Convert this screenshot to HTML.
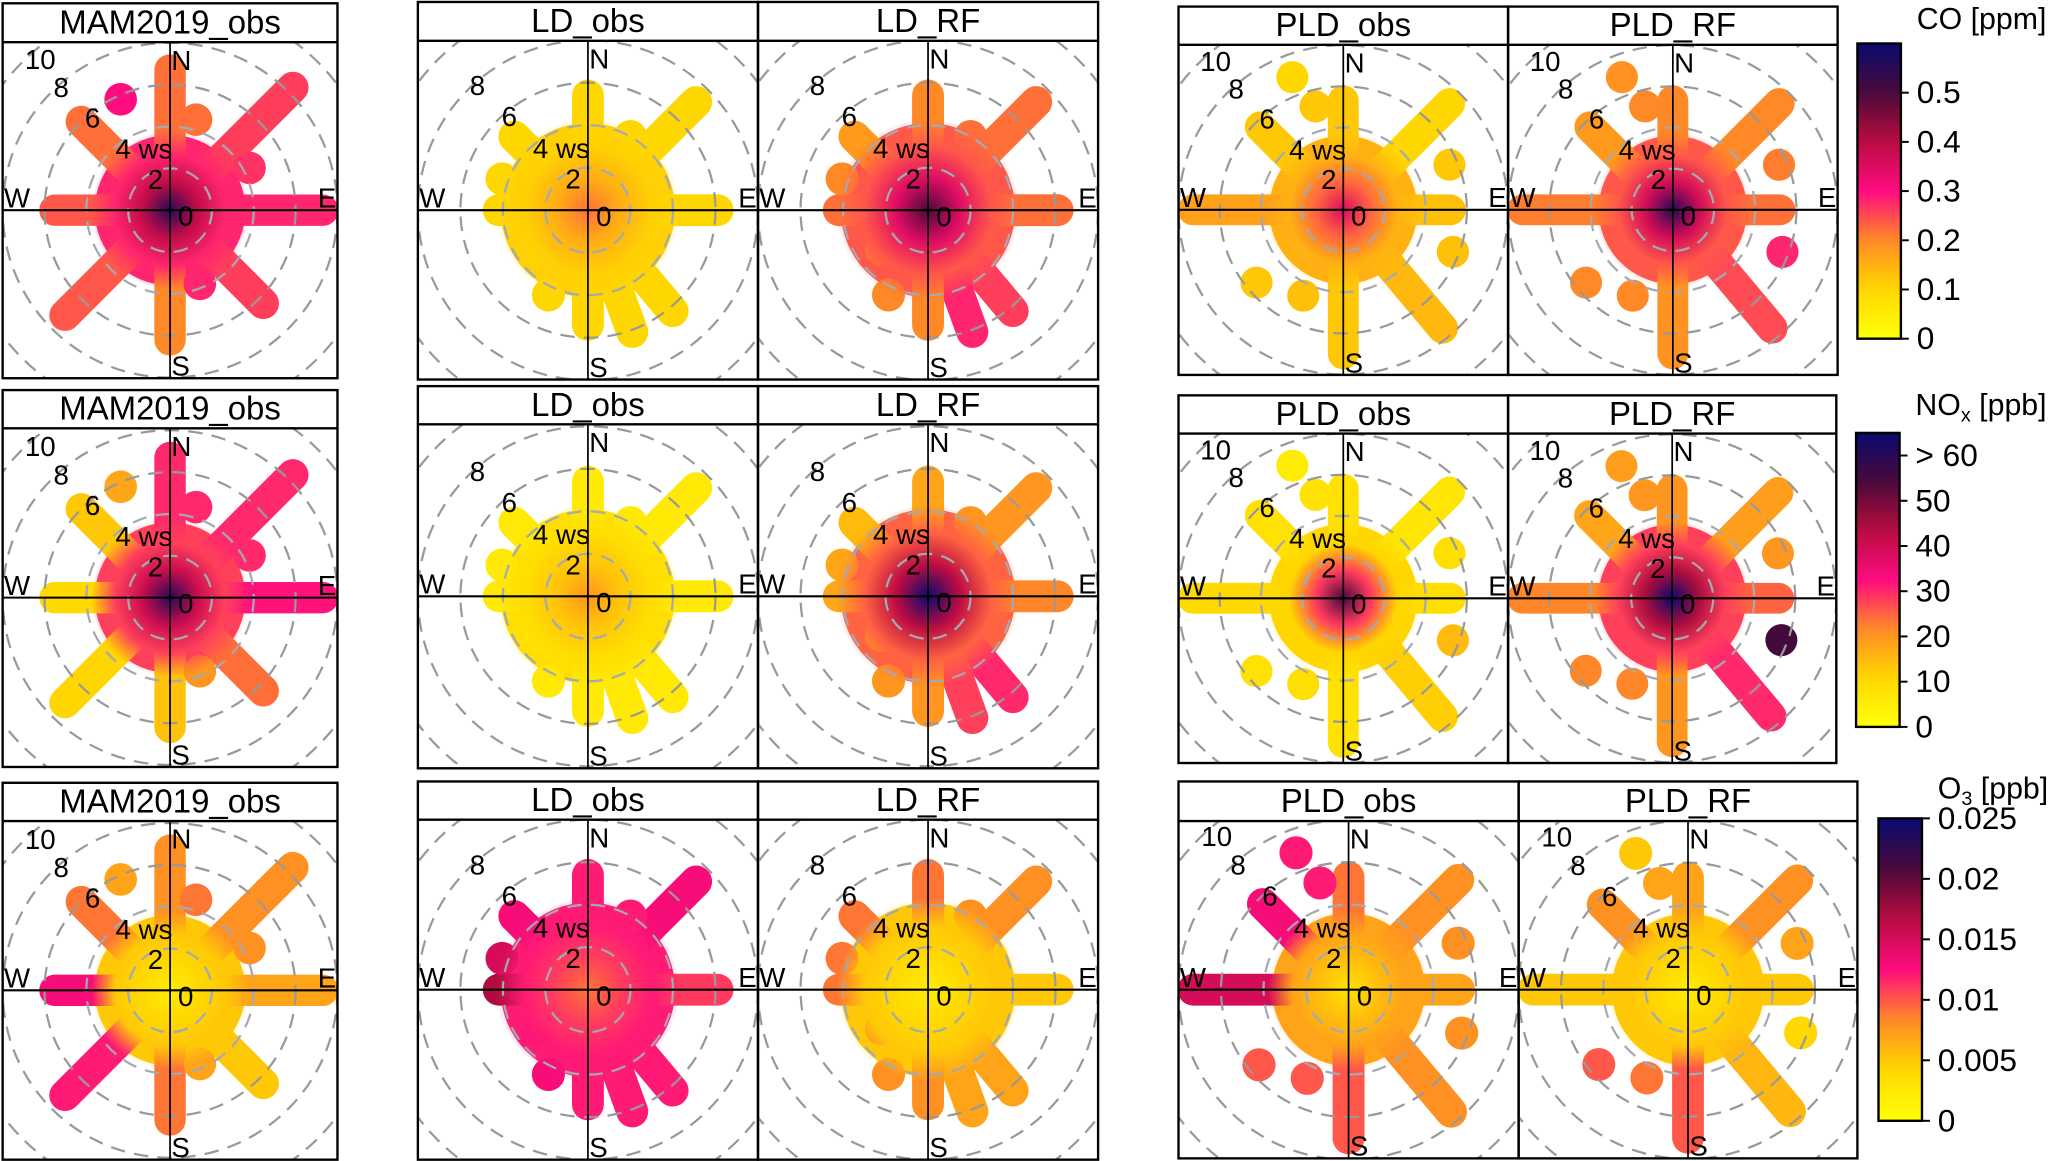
<!DOCTYPE html>
<html><head><meta charset="utf-8">
<style>
html,body{margin:0;padding:0;background:#fff;}
svg{display:block;}
text{font-family:"Liberation Sans Narrow","Liberation Sans",Arial,sans-serif;}
</style></head>
<body>
<svg id="fig" xmlns="http://www.w3.org/2000/svg" width="2067" height="1161" viewBox="0 0 1568 881" preserveAspectRatio="none">
<defs id="defs"></defs>
</svg>
<script>
// ---- wind-shape data (direction deg, wind speed) ----
const mamDirs=[0,45,90,135,180,225,270,315];
const mamLens=[7.4,9,8,7,6.9,7.8,6.2,6.7];
const mamBlobDirs=[336,16,62,158];
const mamBlobWs=[5.8,4.5,4.3,3.8];
const ldDirs=[0,45,90,140,160,180,230,270,315];
const ldLens=[6.1,7.9,6.8,6.9,6.8,6.1,3.6,4.9,5.6];
const ldBlobDirs=[290,205,30];
const ldBlobWs=[4.3,4.4,4.0];
const pldDirs=[0,45,90,140,180,270,315];
const pldLens=[6,8,5.9,8.2,7.7,8,6.4];
const pldBlobDirs=[339,345,67,111,230,205];
const pldBlobWs=[6.9,5.2,5.6,5.7,5.5,4.6];
// ---- colour values: [center, disk], spokes, blobs ----
const coMamCore=[0.55,0.28], coMam=[0.22,0.26,0.28,0.26,0.2,0.24,0.24,0.22], coMamBlob=[0.3,0.22,0.27,0.28];
const coLdObsCore=[0.22,0.11], coLdObs=[0.1,0.1,0.1,0.1,0.1,0.1,0.1,0.1,0.1], coLdObsBlob=[0.1,0.1,0.1];
const coLdRfCore=[0.5,0.24], coLdRf=[0.2,0.22,0.22,0.26,0.28,0.2,0.2,0.22,0.18], coLdRfBlob=[0.2,0.2,0.22];
const coPldObsCore=[0.35,0.15], coPldObs=[0.12,0.1,0.13,0.14,0.12,0.17,0.12], coPldObsBlob=[0.1,0.12,0.12,0.13,0.12,0.13];
const coPldRfCore=[0.55,0.24], coPldRf=[0.2,0.2,0.22,0.25,0.19,0.21,0.18], coPldRfBlob=[0.19,0.2,0.21,0.28,0.2,0.2];
const noMamCore=[60,28], noMam=[30,30,32,24,14,11,10,13], noMamBlob=[18,30,30,20];
const noLdObsCore=[20,9], noLdObs=[6,6,6,6,6,6,6,6,6], noLdObsBlob=[6,6,6];
const noLdRfCore=[70,25], noLdRf=[18,20,22,30,28,20,18,18,15], noLdRfBlob=[18,20,20];
const noPldObsCore=[55,11], noPldObs=[8,7,9,12,8,10,8], noPldObsBlob=[5,8,9,15,8,9];
const noPldRfCore=[70,28], noPldRf=[20,19,25,30,20,22,18], noPldRfBlob=[19,20,20,55,22,22];
const o3MamCore=[0.002,0.005], o3Mam=[0.008,0.008,0.007,0.005,0.009,0.012,0.013,0.009], o3MamBlob=[0.007,0.009,0.008,0.007];
const o3LdObsCore=[0.009,0.012], o3LdObs=[0.012,0.013,0.011,0.012,0.012,0.012,0.013,0.017,0.013], o3LdObsBlob=[0.015,0.013,0.012];
const o3LdRfCore=[0.002,0.005], o3LdRf=[0.009,0.008,0.005,0.007,0.007,0.008,0.009,0.009,0.009], o3LdRfBlob=[0.009,0.008,0.008];
const o3PldObsCore=[0.003,0.007], o3PldObs=[0.009,0.008,0.007,0.008,0.01,0.015,0.013], o3PldObsBlob=[0.012,0.012,0.008,0.008,0.01,0.01];
const o3PldRfCore=[0.002,0.005], o3PldRf=[0.007,0.008,0.005,0.006,0.01,0.005,0.008], o3PldRfBlob=[0.005,0.007,0.007,0.004,0.01,0.009];
const coTicks=[0,0.1,0.2,0.3,0.4,0.5], coTickLabels=["0","0.1","0.2","0.3","0.4","0.5"];
const noTicks=[0,10,20,30,40,50,60], noTickLabels=["0","10","20","30","40","50","> 60"];
const o3Ticks=[0,0.005,0.01,0.015,0.02,0.025], o3TickLabels=["0","0.005","0.01","0.015","0.02","0.025"];

const NS="http://www.w3.org/2000/svg";
const svg=document.getElementById('fig');
const defs=document.getElementById('defs');
const stops=[[0,[255,255,10]],[0.17,[255,214,0]],[0.33,[255,140,36]],[0.5,[255,12,128]],[0.67,[184,12,64]],[0.83,[74,10,56]],[1,[10,10,112]]];
function cmap(t){t=Math.max(0,Math.min(1,t));for(let i=1;i<stops.length;i++){if(t<=stops[i][0]){const a=stops[i-1],b=stops[i];const f=(t-a[0])/(b[0]-a[0]);const c=a[1].map((v,k)=>Math.round(v+(b[1][k]-v)*f));return `rgb(${c[0]},${c[1]},${c[2]})`;}}return 'rgb(10,10,112)';}
function el(tag,attrs,parent){const e=document.createElementNS(NS,tag);for(const k in attrs)e.setAttribute(k,attrs[k]);(parent||svg).appendChild(e);return e;}
function txt(x,y,s,size,anchor,parent){const t=el('text',{x:x,y:y,'font-size':size,'text-anchor':anchor||'middle',fill:'#000'},parent);t.textContent=s;return t;}
let pid=0;
function panel(x0,y0,x1,y1,hdrTop,title,dirs,lens,bDirs,bWs,core,vals,bvals,vmax,showTen,name){
  pid++;
  const g=el('g',{});
  
  
  const u=(x1-x0)/16, cx=(x0+x1)/2, cy=(y0+y1)/2;
  const cp=el('clipPath',{id:'cp'+pid},defs);el('rect',{x:x0,y:y0,width:x1-x0,height:y1-y0},cp);
  const pg=el('g',{'clip-path':`url(#cp${pid})`},g);
  const pt=(d,w)=>[cx+Math.sin(d*Math.PI/180)*w*u, cy-Math.cos(d*Math.PI/180)*w*u];
  const baseR=(dirs.length>8?4.1:3.6)*u;
  const disk=el('circle',{cx:cx,cy:cy,r:baseR,fill:cmap(core[1]/vmax)},pg);
  
  
  dirs.forEach((d,i)=>{const p=pt(d,lens[i]-0.7);
    const l=el('line',{x1:cx,y1:cy,x2:p[0],y2:p[1],stroke:cmap(vals[i]/vmax),'stroke-width':1.5*u,'stroke-linecap':'round'},pg);
    
    });
  bDirs.forEach((d,i)=>{const p=pt(d,bWs[i]);
    const c=el('circle',{cx:p[0],cy:p[1],r:0.78*u,fill:cmap(bvals[i]/vmax)},pg);
    
    });
  const rg=el('radialGradient',{id:'rg'+pid},defs);
  el('stop',{offset:0,'stop-color':cmap(core[0]/vmax)},rg);
  el('stop',{offset:0.35,'stop-color':cmap((core[0]*0.4+core[1]*0.6)/vmax)},rg);
  el('stop',{offset:0.7,'stop-color':cmap(core[1]/vmax)},rg);
  el('stop',{offset:1,'stop-color':cmap(core[1]/vmax),'stop-opacity':0},rg);
  el('circle',{cx:cx,cy:cy,r:baseR*1.05,fill:`url(#rg${pid})`},pg);
  [2,4,6,8,10].forEach(r=>{const c=el('circle',{cx:cx,cy:cy,r:r*u,fill:'none',stroke:r<=4?'#a4a9b2':'#999','stroke-width':1.7,'stroke-dasharray':'11 7'},pg);
    
    });
  el('line',{x1:cx,y1:y0,x2:cx,y2:y1,stroke:'#000','stroke-width':1.3},pg);
  el('line',{x1:x0,y1:cy,x2:x1,y2:cy,stroke:'#000','stroke-width':1.6},pg);
  const fs=21;
  txt(cx+u*0.75,cy+u*0.3+7,'0',fs,'middle',pg);
  txt(cx-u*0.7,cy-u*1.45+7,'2',fs,'middle',pg);
  txt(cx-u*1.25,cy-u*2.9+7,'4 ws',fs,'middle',pg);
  txt(cx-u*3.7,cy-u*4.4+7,'6',fs,'middle',pg);
  txt(cx-u*5.2,cy-u*5.85+7,'8',fs,'middle',pg);
  if(showTen) txt(cx-u*6.2,cy-u*7.2+7,'10',fs,'middle',pg);
  txt(cx+1,y0+21,'N',fs,'start',pg);
  txt(cx+1,y1-2,'S',fs,'start',pg);
  txt(x0+1,cy-2,'W',fs,'start',pg);
  txt(x1-1,cy-2,'E',fs,'end',pg);
  el('rect',{x:x0,y:hdrTop,width:x1-x0,height:y1-hdrTop,fill:'none',stroke:'#000','stroke-width':1.8},g);
  el('line',{x1:x0,y1:y0,x2:x1,y2:y0,stroke:'#000','stroke-width':1.8},g);
  const h=txt((x0+x1)/2,(hdrTop+y0)/2+8,title,25,'middle',g);
  
  
}
function colorbar(x0,x1,yTop,yBot,vmax,ticks,labels,title,sub,unit,titleY,name){
  const g=el('g',{});
  
  
  const lg=el('linearGradient',{id:'lg'+name,x1:0,y1:1,x2:0,y2:0},defs);
  for(let i=0;i<=20;i++)el('stop',{offset:i/20,'stop-color':cmap(i/20)},lg);
  el('rect',{x:x0,y:yTop,width:x1-x0,height:yBot-yTop,fill:`url(#lg${name})`,stroke:'#000','stroke-width':1.8},g);
  const ys=v=>yBot-(v/vmax)*(yBot-yTop);
  ticks.forEach((v,i)=>{const y=ys(v);el('line',{x1:x1,y1:y,x2:x1+6,y2:y,stroke:'#000','stroke-width':1.5},g);
    const t=txt(x1+12,y+8,labels[i],24,'start',g);
    
    });
  const t=el('text',{x:x1+12,y:titleY,'font-size':23,'text-anchor':'start'},g);
  
  
  const a=el('tspan',{},t);a.textContent=title;
  if(sub){const s=el('tspan',{'font-size':15,dy:5},t);s.textContent=sub;const r=el('tspan',{dy:-5},t);r.textContent=unit;}
  else{const r=el('tspan',{},t);r.textContent=unit;}
}
// Row 1 CO
panel(2,32,256,287,2.5,'MAM2019_obs',mamDirs,mamLens,mamBlobDirs,mamBlobWs,coMamCore,coMam,coMamBlob,0.6,true,'co-mam-obs');
panel(317,31,575,288,1.5,'LD_obs',ldDirs,ldLens,ldBlobDirs,ldBlobWs,coLdObsCore,coLdObs,coLdObsBlob,0.6,false,'co-ld-obs');
panel(575,31,833,288,1.5,'LD_RF',ldDirs,ldLens,ldBlobDirs,ldBlobWs,coLdRfCore,coLdRf,coLdRfBlob,0.6,false,'co-ld-rf');
panel(894,34,1144,284.5,5,'PLD_obs',pldDirs,pldLens,pldBlobDirs,pldBlobWs,coPldObsCore,coPldObs,coPldObsBlob,0.6,true,'co-pld-obs');
panel(1144,34,1394,284.5,5,'PLD_RF',pldDirs,pldLens,pldBlobDirs,pldBlobWs,coPldRfCore,coPldRf,coPldRfBlob,0.6,true,'co-pld-rf');
colorbar(1409,1442,33,257,0.6,coTicks,coTickLabels,'CO [ppm]','','',22,'co-colorbar');
// Row 2 NOx
panel(2,325,256,582,296,'MAM2019_obs',mamDirs,mamLens,mamBlobDirs,mamBlobWs,noMamCore,noMam,noMamBlob,65,true,'nox-mam-obs');
panel(317,322,575,583,293,'LD_obs',ldDirs,ldLens,ldBlobDirs,ldBlobWs,noLdObsCore,noLdObs,noLdObsBlob,65,false,'nox-ld-obs');
panel(575,322,833,583,293,'LD_RF',ldDirs,ldLens,ldBlobDirs,ldBlobWs,noLdRfCore,noLdRf,noLdRfBlob,65,false,'nox-ld-rf');
panel(894,329,1144,579,300,'PLD_obs',pldDirs,pldLens,pldBlobDirs,pldBlobWs,noPldObsCore,noPldObs,noPldObsBlob,65,true,'nox-pld-obs');
panel(1144,329,1393,579,300,'PLD_RF',pldDirs,pldLens,pldBlobDirs,pldBlobWs,noPldRfCore,noPldRf,noPldRfBlob,65,true,'nox-pld-rf');
colorbar(1408,1441,328.5,551.6,65,noTicks,noTickLabels,'NO','x',' [ppb]',315,'nox-colorbar');
// Row 3 O3
panel(2,623,256,880,594,'MAM2019_obs',mamDirs,mamLens,mamBlobDirs,mamBlobWs,o3MamCore,o3Mam,o3MamBlob,0.025,true,'o3-mam-obs');
panel(317,622,575,880,593,'LD_obs',ldDirs,ldLens,ldBlobDirs,ldBlobWs,o3LdObsCore,o3LdObs,o3LdObsBlob,0.025,false,'o3-ld-obs');
panel(575,622,833,880,593,'LD_RF',ldDirs,ldLens,ldBlobDirs,ldBlobWs,o3LdRfCore,o3LdRf,o3LdRfBlob,0.025,false,'o3-ld-rf');
panel(894,623,1152,879,593,'PLD_obs',pldDirs,pldLens,pldBlobDirs,pldBlobWs,o3PldObsCore,o3PldObs,o3PldObsBlob,0.025,true,'o3-pld-obs');
panel(1152,623,1409,879,593,'PLD_RF',pldDirs,pldLens,pldBlobDirs,pldBlobWs,o3PldRfCore,o3PldRf,o3PldRfBlob,0.025,true,'o3-pld-rf');
colorbar(1425,1458,621,850.5,0.025,o3Ticks,o3TickLabels,'O','3',' [ppb]',606,'o3-colorbar');
</script>
</body></html>
